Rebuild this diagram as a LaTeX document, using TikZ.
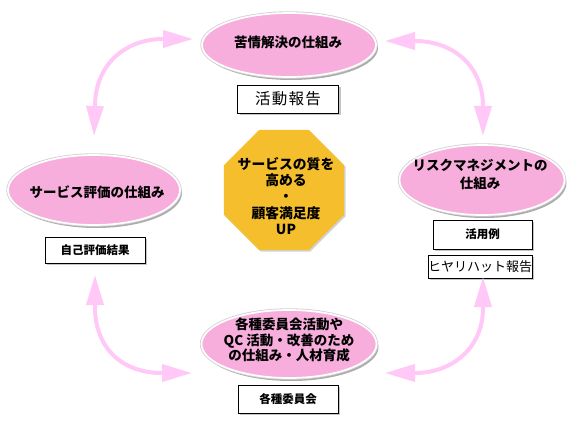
\documentclass[tikz,border=0pt]{standalone}
\usepackage{fontspec}
\setmainfont{Noto Sans CJK JP}
\usetikzlibrary{shapes.geometric,shadows,arrows.meta}
\definecolor{ellpink}{RGB}{248,174,220}
\definecolor{arrpink}{RGB}{255,200,247}
\definecolor{octyel}{RGB}{245,190,44}
\tikzset{
  ell/.style={ellipse, drop shadow={shadow xshift=2pt, shadow yshift=-3pt, fill=black!65},
    preaction={draw=gray!35, line width=3.4pt}, fill=ellpink, draw=white, line width=1.7pt, inner sep=0pt},
  ellt/.style={font=\bfseries\fontsize{13.5}{15.5}\selectfont, align=center, inner sep=0pt},
  box/.style={rectangle, drop shadow={shadow xshift=2pt, shadow yshift=-2pt, fill=black!45},
    fill=white, draw=black, line width=0.8pt, inner sep=0pt},
  boldt/.style={font=\bfseries\fontsize{11.5}{13}\selectfont},
  plaint/.style={font=\fontsize{15.5}{17}\selectfont\addfontfeature{LetterSpace=8}},
  oct/.style={regular polygon, regular polygon sides=8, minimum size=130pt, inner sep=0pt,
    fill=octyel, drop shadow={shadow xshift=1.5pt, shadow yshift=-1.5pt, fill=black!35}},
  cyc/.style={draw=arrpink, line width=4pt, {Triangle[length=30pt,width=17pt]}-{Triangle[length=30pt,width=17pt]}}
}
\begin{document}
\begin{tikzpicture}[x=1pt,y=-1pt]
\useasboundingbox (0,0) rectangle (580,425);
% octagon
\node[oct] (octa) at (284,190) {};
\node[ellt, font=\bfseries\fontsize{13.8}{16.3}\selectfont] (octt) at (286,196) {サービスの質を\\高める\\・\\顧客満足度\\UP};
% ellipses
\node[ell, minimum width=174pt, minimum height=64pt] (top) at (289,45) {};
\node[ellt] (topt) at (288,42) {苦情解決の仕組み};
\node[ell, minimum width=172pt, minimum height=70pt] (left) at (94,190) {};
\node[ellt] (leftt) at (97,192) {サービス評価の仕組み};
\node[ell, minimum width=165pt, minimum height=70pt] (right) at (482,180) {};
\node[ellt, font=\bfseries\fontsize{13.5}{18}\selectfont] (rightt) at (480,174) {リスクマネジメントの\\仕組み};
\node[ell, minimum width=175pt, minimum height=68pt] (bot) at (289,344) {};
\node[ellt] (bott) at (289,340) {各種委員会活動や\\QC 活動・改善のため\\の仕組み・人材育成};
% boxes
\node[box, plaint, minimum width=101pt, minimum height=28pt] (b1) at (288,99) {活動報告};
\node[box, boldt, minimum width=100pt, minimum height=26pt] (b2) at (95,250) {自己評価結果};
\node[box, boldt, minimum width=99pt, minimum height=29pt] (b3) at (482.5,234.5) {活用例};
\node[box, font=\fontsize{13}{14}\selectfont, minimum width=94pt, minimum height=23pt] (b4) at (480,266.5) {ヒヤリハット報告};
\node[box, boldt, minimum width=100pt, minimum height=28pt] (b5) at (288,399) {各種委員会};
% arrow tips
\coordinate (tlA) at (94,136);
\coordinate (tlB) at (193,39);
\coordinate (trA) at (385,41);
\coordinate (trB) at (483,136);
\coordinate (blA) at (95,275);
\coordinate (blB) at (192,373);
\coordinate (brA) at (483,277);
\coordinate (brB) at (385,373);
% cycle arrows
\draw[cyc] (tlA) -- (95,106) .. controls (95,65) and (125,39) .. (163,39) -- (tlB);
\draw[cyc] (trA) -- (415,41) .. controls (453,41) and (483,66) .. (483,106) -- (trB);
\draw[cyc] (blA) -- (95,307) .. controls (95,348) and (122,373) .. (162,373) -- (blB);
\draw[cyc] (brA) -- (483,308) .. controls (483,348) and (452,373) .. (415,373) -- (brB);
\end{tikzpicture}
\end{document}
